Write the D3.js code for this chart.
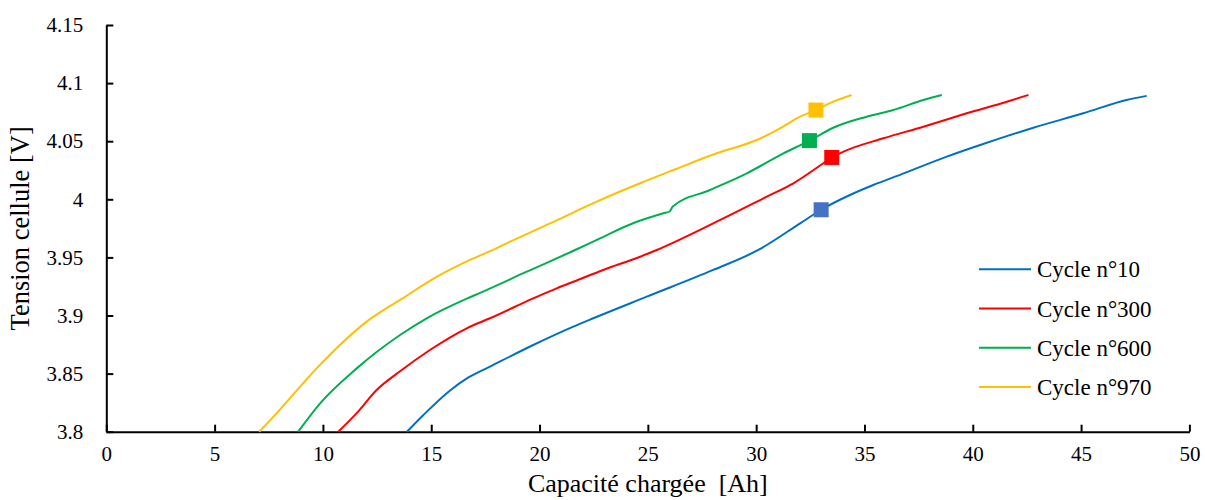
<!DOCTYPE html>
<html>
<head>
<meta charset="utf-8">
<script src="https://cdn.jsdelivr.net/npm/d3@7/dist/d3.min.js"></script>
<style>
  body { margin: 0; background: #fff; }
  svg text { font-family: "Liberation Serif", Tinos, "Times New Roman", Times, "DejaVu Serif", serif; }
</style>
</head>
<body>
<svg id="chart" width="1205" height="500"></svg>
<script>
// ---- data ----
const seriesNames = ["Cycle n°10", "Cycle n°300", "Cycle n°600", "Cycle n°970"];
const seriesColors = ["#0070C0", "#FF0000", "#00B050", "#FFC000"];
const markerColors = ["#4472C4", "#FF0000", "#00B050", "#FFC000"];

const cycle10 = [[13.88,3.8],[14.64,3.8144],[15.87,3.8355],[16.7,3.8465],[17.71,3.856],[19.71,3.8746],[21.56,3.8904],[22.48,3.8976],[24.95,3.9162],[28.02,3.9392],[30.1,3.9564],[32.03,3.9793],[33.0,3.991],[34.33,4.0037],[35.41,4.0123],[36.64,4.021],[38.8,4.0367],[40.34,4.0467],[42.8,4.0616],[45.1,4.074],[47.1,4.0855],[48.03,4.089]];
const cycle300 = [[10.71,3.8],[11.56,3.816],[12.48,3.8359],[13.56,3.852],[14.94,3.8703],[16.64,3.889],[17.71,3.8976],[19.71,3.9148],[20.79,3.9234],[21.56,3.929],[22.94,3.9392],[24.64,3.9506],[25.41,3.9564],[28.02,3.9793],[30.49,4.0023],[31.72,4.0138],[33.1,4.031],[33.49,4.036],[34.03,4.041],[35.87,4.0525],[37.72,4.0625],[39.72,4.074],[41.57,4.084],[42.57,4.0898]];
const cycle600 = [[8.86,3.8],[9.87,3.8244],[11.56,3.8545],[13.56,3.8832],[14.79,3.8976],[16.64,3.9145],[17.26,3.9195],[19.41,3.9377],[21.72,3.957],[22.79,3.9664],[24.4,3.98],[25.72,3.988],[26.0,3.9895],[26.15,3.9937],[27.87,4.008],[29.57,4.0224],[31.26,4.0396],[32.46,4.0505],[32.8,4.054],[33.56,4.0616],[35.1,4.0711],[36.33,4.0768],[37.72,4.0855],[38.57,4.0898]];
const cycle970 = [[7.06,3.8],[7.87,3.816],[9.71,3.8545],[12.02,3.8947],[13.56,3.9134],[15.41,3.9349],[16.79,3.9478],[17.85,3.9564],[18.64,3.9635],[20.49,3.9793],[22.64,3.998],[24.64,4.0138],[26.18,4.0252],[28.18,4.0396],[30.03,4.051],[31.1,4.0611],[32.03,4.0711],[32.76,4.0768],[33.56,4.084],[34.41,4.0898]];
const markerPoints = [[33.0,3.991],[33.49,4.036],[32.46,4.0505],[32.76,4.0768]];

const xTicks = [0,5,10,15,20,25,30,35,40,45,50];
const yTicks = [3.8,3.85,3.9,3.95,4,4.05,4.1,4.15];
const xTitle = "Capacité chargée\u00a0\u00a0[Ah]";
const yTitle = "Tension cellule [V]";

// ---- layout ----
const svg = d3.select("#chart");
const mLeft = 106.3, mRight = 1189.4, mTop = 25, mBottom = 431.7;
const x = d3.scaleLinear().domain([0, 50]).range([mLeft, mRight]);
const y = d3.scaleLinear().domain([3.8, 4.15]).range([mBottom, mTop]);
const serif = '"Liberation Serif", Tinos, "Times New Roman", Times, "DejaVu Serif", serif';

// axes
const xAxis = d3.axisBottom(x).tickValues(xTicks).tickSizeInner(-7).tickSizeOuter(0).tickPadding(14)
  .tickFormat(d => String(d));
const yAxis = d3.axisLeft(y).tickValues(yTicks).tickSizeInner(-7).tickSizeOuter(0).tickPadding(23)
  .tickFormat(d => String(+d.toFixed(2)));

const gx = svg.append("g").attr("transform", `translate(0,${mBottom})`).call(xAxis);
const gy = svg.append("g").attr("transform", `translate(${mLeft},0)`).call(yAxis);
[gx, gy].forEach(g => {
  g.attr("font-family", serif);
  g.select(".domain").attr("stroke", "#000").attr("stroke-width", 2);
  g.selectAll(".tick line").attr("stroke", "#000").attr("stroke-width", 2);
  g.selectAll(".tick text").attr("fill", "#000").attr("font-size", 21).attr("font-family", serif);
});
gx.selectAll(".tick text").attr("dy", "0.71em");

// lines
const line = d3.line().x(d => x(d[0])).y(d => y(d[1])).curve(d3.curveMonotoneX);
const allSeries = [cycle10, cycle300, cycle600, cycle970];
allSeries.forEach((s, i) => {
  svg.append("path").datum(s).attr("d", line)
    .attr("fill", "none").attr("stroke", seriesColors[i]).attr("stroke-width", 2)
    .attr("stroke-linejoin", "round");
});

// markers
const ms = 15;
svg.selectAll("rect.marker").data(markerPoints).enter().append("rect")
  .attr("class", "marker")
  .attr("x", d => x(d[0]) - ms / 2).attr("y", d => y(d[1]) - ms / 2)
  .attr("width", ms).attr("height", ms)
  .attr("fill", (d, i) => markerColors[i]);

// axis titles
svg.append("text").attr("x", (mLeft + mRight) / 2).attr("y", 492)
  .attr("text-anchor", "middle").attr("font-family", serif).attr("font-size", 26).attr("fill", "#000").text(xTitle);
svg.append("text").attr("transform", `translate(29,${(mTop + mBottom) / 2}) rotate(-90)`)
  .attr("text-anchor", "middle").attr("font-family", serif).attr("font-size", 26.5).attr("fill", "#000").text(yTitle);

// legend
const legY0 = 269.3, legDy = 39.2;
seriesNames.forEach((name, i) => {
  const yy = legY0 + i * legDy;
  svg.append("line").attr("x1", 979).attr("x2", 1031).attr("y1", yy).attr("y2", yy)
    .attr("stroke", seriesColors[i]).attr("stroke-width", 2);
  svg.append("text").attr("x", 1037).attr("y", yy).attr("dy", "0.35em")
    .attr("font-family", serif).attr("font-size", 23).attr("fill", "#000").text(name);
});
</script>
</body>
</html>
